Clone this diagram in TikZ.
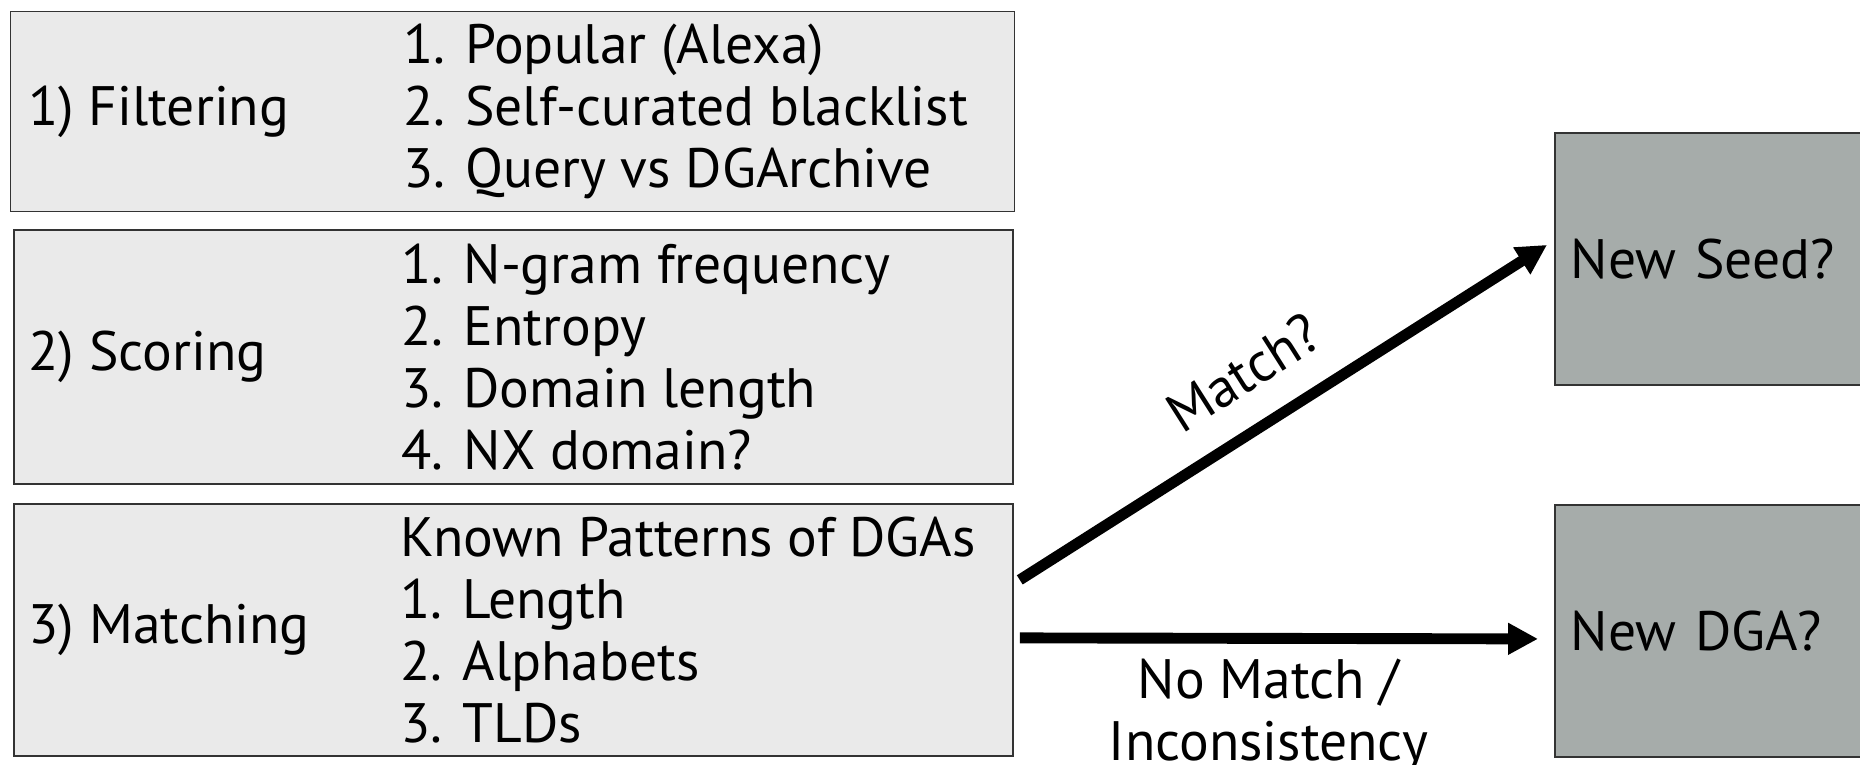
\documentclass[tikz,border=0pt]{standalone}
\usepackage{fontspec}
\setmainfont{PT Sans}
\usepackage{tikz}
\usetikzlibrary{positioning,arrows.meta}
\definecolor{lightbox}{HTML}{EAEAEA}
\definecolor{darkbox}{HTML}{A6ACAA}
\newcommand{\boxfont}{\fontsize{15.8pt}{17.7pt}\selectfont}

\begin{document}
\begin{tikzpicture}[
  stage/.style={draw=black!80,line width=0.5pt,fill=lightbox,inner sep=0pt,anchor=north west},
  verdict/.style={draw=black!80,line width=0.5pt,fill=darkbox,anchor=north west,inner xsep=0.16cm,
    text width=3.0cm,minimum height=2.52cm,align=left,font=\boxfont},
  stagetxt/.style={inner sep=0pt,font=\boxfont},
  listtxt/.style={inner sep=0pt,align=left,font=\boxfont},
  flow/.style={line width=3.1pt,-{Triangle[length=3mm,width=3mm]}}]
\clip (0,0) rectangle (18.6,-7.64);

% the three stages
\node (F) [stage,minimum width=10.04cm,minimum height=2.0cm] at (0.095,-0.107) {};
\node (S) [stage,minimum width=9.99cm,minimum height=2.54cm] at (0.13,-2.29) {};
\node (M) [stage,minimum width=9.99cm,minimum height=2.52cm] at (0.13,-5.03) {};

\node (Flab) [stagetxt,right=0.18cm of F.west] {1) Filtering};
\node (Slab) [stagetxt,right=0.15cm of S.west] {2) Scoring};
\node (Mlab) [stagetxt,right=0.15cm of M.west] {3) Matching};

\node (Flist) [listtxt,right=3.93cm of F.west] {1. Popular (Alexa)\\2. Self-curated blacklist\\3. Query vs DGArchive};
\node (Slist) [listtxt,right=3.88cm of S.west] {1. N-gram frequency\\2. Entropy\\3. Domain length\\4. NX domain?};
\node (Mlist) [listtxt,right=3.87cm of M.west] {Known Patterns of DGAs\\1. Length\\2. Alphabets\\3. TLDs};

% outcomes
\node (seed) [verdict] at (15.54,-1.32) {New Seed?};
\node (dga) [verdict] at (15.54,-5.04) {New DGA?};

\draw[flow] ([shift={(0.06,0.5)}]M.east) -- ([shift={(-0.07,0.14)}]seed.west)
  node[pos=0.48,sloped,above=5pt,font=\boxfont] {Match?};
\draw[flow] ([shift={(0.06,-0.08)}]M.east) -- ([shift={(-0.16,-0.08)}]dga.west)
  node[pos=0.48,below=1pt,align=center,font=\boxfont] {No Match /\\Inconsistency};
\end{tikzpicture}
\end{document}
